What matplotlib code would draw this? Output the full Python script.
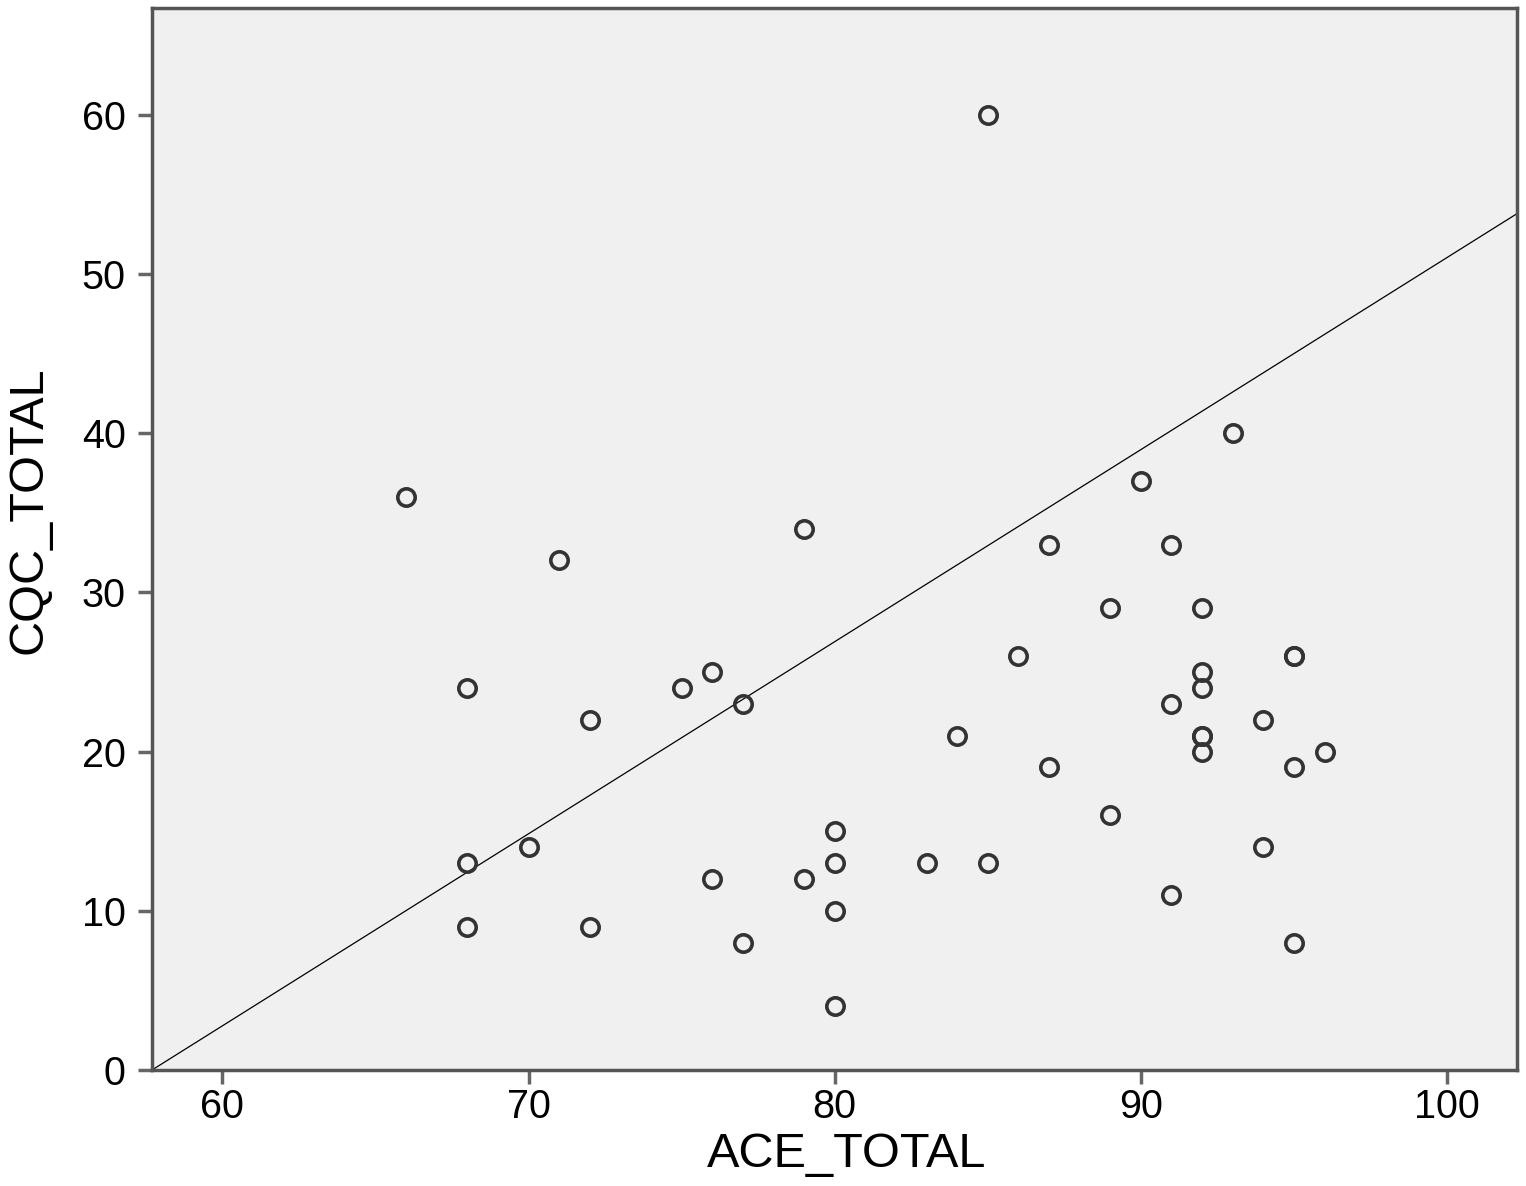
import matplotlib.pyplot as plt
import numpy as np

plt.rcParams['font.family'] = ['Liberation Sans', 'DejaVu Sans']

ace_total = [66, 68, 68, 68, 70, 71, 72, 72, 75, 76, 76, 77, 77, 79, 79,
             80, 80, 80, 80, 83, 84, 85, 85, 86, 87, 87, 89, 89, 90, 91,
             91, 91, 92, 92, 92, 92, 92, 92, 93, 94, 94, 95, 95, 95, 95, 96]
cqc_total = [36, 24, 13, 9, 14, 32, 22, 9, 24, 25, 12, 23, 8, 34, 12,
             15, 13, 10, 4, 13, 21, 60, 13, 26, 33, 19, 29, 16, 37, 33,
             23, 11, 29, 25, 24, 21, 21, 20, 40, 22, 14, 26, 26, 19, 8, 20]

# fit line as drawn
line_x = [57.7, 102.3]
line_y = [0, 53.8]

fig = plt.figure(figsize=(15.26, 11.86), dpi=100)
ax = fig.add_axes([0.0996, 0.0978, 0.8948, 0.8955])
ax.set_facecolor('#f0f0f0')

ax.plot(line_x, line_y, color='black', linewidth=0.9)
ax.plot(ace_total, cqc_total, linestyle='none', marker='o', markersize=12.5,
        markerfacecolor='none', markeredgecolor='#333333', markeredgewidth=2.6)

ax.set_xlim(57.7, 102.3)
ax.set_ylim(0, 66.7)
ax.set_xticks([60, 70, 80, 90, 100])
ax.set_yticks([0, 10, 20, 30, 40, 50, 60])

for s in ax.spines.values():
    s.set_color('#555555')
    s.set_linewidth(2.5)
ax.tick_params(direction='out', length=10, width=2.5, color='#666666',
               labelsize=28.5)
ax.tick_params(axis='x', pad=3)
ax.tick_params(axis='y', pad=9)

ax.set_xlabel('ACE_TOTAL', fontsize=35, labelpad=4)
ax.set_ylabel('CQC_TOTAL', fontsize=35, labelpad=22)
ax.xaxis.label.set_x(0.509)
ax.yaxis.label.set_y(0.527)

fig.savefig('out.png', dpi=100)
